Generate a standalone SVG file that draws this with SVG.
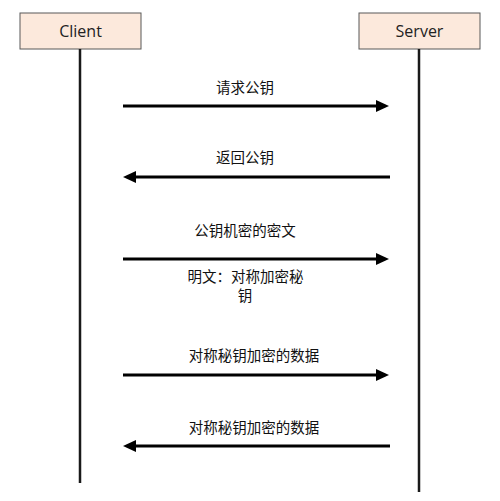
<svg xmlns="http://www.w3.org/2000/svg" width="500" height="501" viewBox="0 0 500 501">
<defs>
<style>
.box{fill:#fce9dc;stroke:#595959;stroke-width:1}
.life{stroke:#1a1a1a;stroke-width:2.5;fill:none}
.msg{stroke:#000;stroke-width:3;fill:none}
.head{fill:#000}
.name{font-family:"Open Sans","Liberation Sans",sans-serif;font-size:16px;fill:#222;text-anchor:middle}
.lbl{font-family:"Noto Sans CJK SC",sans-serif;font-size:14.5px;fill:#111;text-anchor:middle}
</style>
</defs>
<rect width="500" height="501" fill="#fff"/>
<g id="client">
<rect class="box" x="20" y="13" width="121" height="36"/>
<text class="name" x="80.5" y="37">Client</text>
<line class="life" x1="80" y1="49" x2="80" y2="483"/>
</g>
<g id="server">
<rect class="box" x="359" y="13" width="121" height="36"/>
<text class="name" x="419.5" y="37">Server</text>
<line class="life" x1="419" y1="49" x2="419" y2="492"/>
</g>
<g id="connectors">
<line class="msg" x1="123" y1="106" x2="377" y2="106"/>
<polygon class="head" points="376,100 389,106 376,112"/>
<line class="msg" x1="390" y1="177" x2="135" y2="177"/>
<polygon class="head" points="136,171 123,177 136,183"/>
<line class="msg" x1="123" y1="259" x2="377" y2="259"/>
<polygon class="head" points="376,253 389,259 376,265"/>
<line class="msg" x1="123" y1="375" x2="377" y2="375"/>
<polygon class="head" points="376,369 389,375 376,381"/>
<line class="msg" x1="390" y1="446" x2="135" y2="446"/>
<polygon class="head" points="136,440 123,446 136,452"/>
</g>
<g id="labels">
<text class="lbl" x="245" y="93">请求公钥</text>
<text class="lbl" x="245" y="163">返回公钥</text>
<text class="lbl" x="245" y="236">公钥机密的密文</text>
<text class="lbl" x="245.5" y="282">明文：对称加密秘</text>
<text class="lbl" x="245" y="301">钥</text>
<text class="lbl" x="254" y="361">对称秘钥加密的数据</text>
<text class="lbl" x="254" y="433">对称秘钥加密的数据</text>
</g>
</svg>
